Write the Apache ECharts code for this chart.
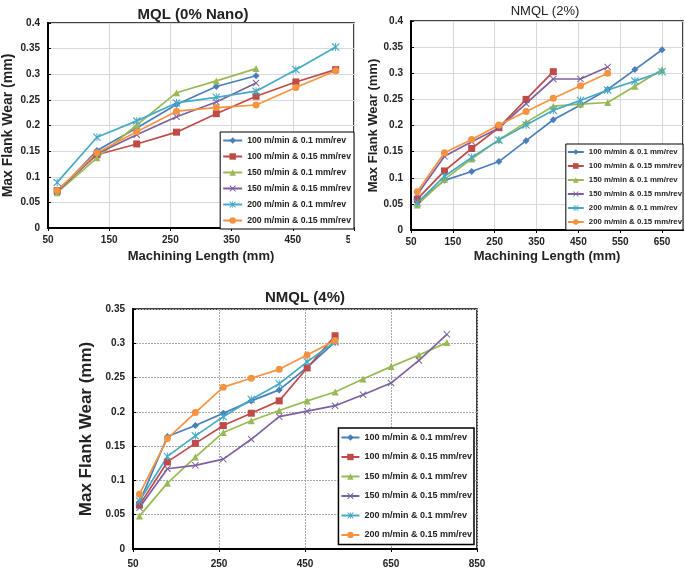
<!DOCTYPE html>
<html>
<head>
<meta charset="utf-8">
<script src="https://cdn.jsdelivr.net/npm/echarts@6/dist/echarts.min.js"></script>
<style>
html,body{margin:0;padding:0;background:#fff;}
#c{width:685px;height:569px;}
</style>
</head>
<body>
<div id="c"></div>
<script>
// ---------------- DATA ----------------
const seriesNames = [
  '100 m/min & 0.1 mm/rev',
  '100 m/min & 0.15 mm/rev',
  '150 m/min & 0.1 mm/rev',
  '150 m/min & 0.15 mm/rev',
  '200 m/min & 0.1 mm/rev',
  '200 m/min & 0.15 mm/rev'
];
const chartTitles = ['MQL (0% Nano)', 'NMQL (2%)', 'NMQL (4%)'];

// machining lengths (mm)
const lengths = [65, 130, 195, 260, 325, 390, 455, 520, 585, 650, 715, 780];

// MQL (0% Nano)
const mql_100_01  = [0.070, 0.151, 0.195, 0.241, 0.276, 0.297];
const mql_100_015 = [0.073, 0.143, 0.164, 0.187, 0.223, 0.257, 0.285, 0.309];
const mql_150_01  = [0.069, 0.137, 0.201, 0.264, 0.287, 0.311];
const mql_150_015 = [0.071, 0.145, 0.182, 0.217, 0.246, 0.283];
const mql_200_01  = [0.089, 0.177, 0.209, 0.244, 0.255, 0.267, 0.309, 0.353];
const mql_200_015 = [0.073, 0.147, 0.188, 0.228, 0.235, 0.240, 0.274, 0.307];

// NMQL (2%)
const n2_100_01  = [0.053, 0.095, 0.112, 0.131, 0.171, 0.211, 0.239, 0.269, 0.307, 0.345];
const n2_100_015 = [0.059, 0.113, 0.156, 0.196, 0.250, 0.303];
const n2_150_01  = [0.048, 0.097, 0.136, 0.173, 0.206, 0.237, 0.241, 0.244, 0.275, 0.307];
const n2_150_015 = [0.068, 0.141, 0.169, 0.195, 0.242, 0.289, 0.289, 0.312];
const n2_200_01  = [0.052, 0.103, 0.139, 0.172, 0.201, 0.229, 0.248, 0.268, 0.285, 0.303];
const n2_200_015 = [0.073, 0.148, 0.173, 0.201, 0.227, 0.252, 0.276, 0.300];

// NMQL (4%)
const n4_100_01  = [0.068, 0.164, 0.180, 0.198, 0.216, 0.232, 0.265, 0.302];
const n4_100_015 = [0.064, 0.127, 0.154, 0.180, 0.198, 0.216, 0.264, 0.311];
const n4_150_01  = [0.048, 0.096, 0.134, 0.170, 0.187, 0.202, 0.216, 0.229, 0.248, 0.266, 0.283, 0.301];
const n4_150_015 = [0.060, 0.117, 0.122, 0.131, 0.160, 0.193, 0.201, 0.209, 0.225, 0.242, 0.275, 0.313];
const n4_200_01  = [0.070, 0.135, 0.165, 0.193, 0.218, 0.241, 0.273, 0.302];
const n4_200_015 = [0.080, 0.161, 0.199, 0.236, 0.249, 0.262, 0.283, 0.304];

const xTicks = [
  {min: 50, max: 550, interval: 100},
  {min: 50, max: 700, interval: 100},
  {min: 50, max: 850, interval: 200}
];
const yTicks = [
  {min: 0, max: 0.4, interval: 0.05},
  {min: 0, max: 0.4, interval: 0.05},
  {min: 0, max: 0.35, interval: 0.05}
];

const groups = [
  [mql_100_01, mql_100_015, mql_150_01, mql_150_015, mql_200_01, mql_200_015],
  [n2_100_01, n2_100_015, n2_150_01, n2_150_015, n2_200_01, n2_200_015],
  [n4_100_01, n4_100_015, n4_150_01, n4_150_015, n4_200_01, n4_200_015]
];

// ---------------- STYLE ----------------
const colors = ['#4A7EBB', '#BE4B48', '#98B954', '#7D60A0', '#46AAC5', '#F69240'];
const xMark = 'path://M0,1L1,0L5,4L9,0L10,1L6,5L10,9L9,10L5,6L1,10L0,9L4,5Z';
const starMark = 'path://M0,1L1,0L5,4L9,0L10,1L6,5L10,9L9,10L5,6L1,10L0,9L4,5Z M4.4,0L5.6,0L5.6,10L4.4,10Z';
const symbols = ['diamond', 'rect', 'triangle', xMark, starMark, 'circle'];
const symSizes = [7, 7, 7, 7, 8, 7];

const FONT = "'Liberation Sans', Arial, sans-serif";

const grids = [
  {left: 48, top: 23, width: 306, height: 205},
  {left: 411, top: 21, width: 272, height: 209},
  {left: 133, top: 309, width: 344, height: 240}
];
const gridLine = [
  {color: '#d9d9d9', width: 1, type: 'solid'},
  {color: '#d9d9d9', width: 1, type: 'solid'},
  {color: '#a8a8a8', width: 1, type: [2, 1]}
];
const yNameGap = [33, 23, 26];
const yNameSize = [14, 13, 17];
const xNameGap = [22, 20, 22];
const xLabelMargin = [7, 7, 10];
const xNames = ['Machining Length (mm)', 'Machining Length (mm)', ''];

const xAxes = [], yAxes = [], series = [], legends = [];
for (let g = 0; g < 3; g++) {
  xAxes.push({
    type: 'value', gridIndex: g,
    min: xTicks[g].min, max: xTicks[g].max, interval: xTicks[g].interval,
    name: xNames[g], nameLocation: 'middle', nameGap: xNameGap[g],
    nameTextStyle: {fontFamily: FONT, fontWeight: 'bold', fontSize: 13, color: '#222'},
    axisLine: {show: true, onZero: false, lineStyle: {color: '#000', width: 2}},
    axisTick: {show: true, length: 3, lineStyle: {color: '#000'}},
    axisLabel: {fontFamily: FONT, fontWeight: 'bold', fontSize: 10, color: '#222', margin: xLabelMargin[g], showMaxLabel: g !== 1},
    splitLine: {show: true, lineStyle: gridLine[g]}
  });
  yAxes.push({
    type: 'value', gridIndex: g,
    min: yTicks[g].min, max: yTicks[g].max, interval: yTicks[g].interval,
    name: 'Max Flank Wear (mm)', nameLocation: 'middle', nameGap: yNameGap[g],
    nameTextStyle: {fontFamily: FONT, fontWeight: 'bold', fontSize: yNameSize[g], color: '#222'},
    axisLine: {show: true, lineStyle: {color: '#000', width: 2}},
    axisTick: {show: true, inside: true, length: 3, lineStyle: {color: '#000'}},
    axisLabel: {fontFamily: FONT, fontWeight: 'bold', fontSize: 10, color: '#222', margin: 8},
    splitLine: {show: true, lineStyle: gridLine[g]}
  });
  groups[g].forEach((vals, i) => {
    series.push({
      name: seriesNames[i], type: 'line',
      xAxisIndex: g, yAxisIndex: g,
      data: vals.map((v, k) => [lengths[k], v]),
      symbol: symbols[i], symbolSize: symSizes[i],
      lineStyle: {color: colors[i], width: 1.7},
      itemStyle: {color: colors[i]},
      emphasis: {disabled: true},
      animation: false
    });
  });
}

legends.push({
  data: seriesNames, orient: 'vertical', right: 331, top: 132,
  itemWidth: 19, itemHeight: 8, itemGap: 7, padding: [4, 3, 4, 2],
  backgroundColor: '#fff', borderColor: '#000', borderWidth: 1,
  textStyle: {fontFamily: FONT, fontWeight: 'bold', fontSize: 8.7, color: '#222'}
});
legends.push({
  data: seriesNames, orient: 'vertical', right: 2, top: 144,
  itemWidth: 16, itemHeight: 7, itemGap: 6, padding: [4, 1, 4, 1],
  backgroundColor: '#fff', borderColor: '#000', borderWidth: 1,
  textStyle: {fontFamily: FONT, fontWeight: 'bold', fontSize: 7.8, color: '#222'}
});
legends.push({
  data: seriesNames, orient: 'vertical', right: 211, top: 428,
  itemWidth: 18, itemHeight: 8, itemGap: 10.5, padding: [5, 2, 5, 2],
  backgroundColor: '#fff', borderColor: '#000', borderWidth: 1.5,
  textStyle: {fontFamily: FONT, fontWeight: 'bold', fontSize: 9, color: '#222'}
});

const option = {
  backgroundColor: '#fff',
  animation: false,
  title: [
    {text: chartTitles[0], left: 188, top: 2, textAlign: 'center',
     textStyle: {fontFamily: FONT, fontWeight: 'bold', fontSize: 15, color: '#222'}},
    {text: chartTitles[1], left: 540, top: 0, textAlign: 'center',
     textStyle: {fontFamily: FONT, fontWeight: 'normal', fontSize: 13, color: '#222'}},
    {text: chartTitles[2], left: 300, top: 285, textAlign: 'center',
     textStyle: {fontFamily: FONT, fontWeight: 'bold', fontSize: 15, color: '#222'}}
  ],
  grid: grids.map(g => Object.assign({show: true, borderColor: '#000', borderWidth: 1.5, backgroundColor: 'transparent'}, g)),
  xAxis: xAxes,
  yAxis: yAxes,
  legend: legends,
  series: series,
  graphic: [
    // panel edge of the NMQL (2%) figure that crops the last MQL tick label
    {type: 'rect', left: 350, top: 232, shape: {width: 12, height: 16}, style: {fill: '#fff'}, z: 100, silent: true}
  ]
};

const chart = echarts.init(document.getElementById('c'), null, {renderer: 'canvas'});
chart.setOption(option);
</script>
</body>
</html>
